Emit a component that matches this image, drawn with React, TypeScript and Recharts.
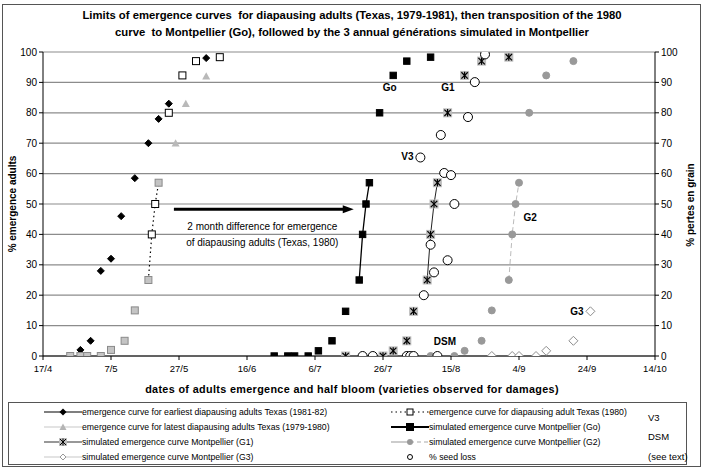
import React from 'react';
import { ComposedChart, Scatter, XAxis, YAxis, CartesianGrid, ReferenceLine, ReferenceDot } from 'recharts';

// x = days after 17 April
const dateLabels = ['17/4', '7/5', '27/5', '16/6', '6/7', '26/7', '15/8', '4/9', '24/9', '14/10'];
const xTicks = [0, 20, 40, 60, 80, 100, 120, 140, 160, 180];
const yTicks = [0, 10, 20, 30, 40, 50, 60, 70, 80, 90, 100];

const earliestX = [11, 14, 17, 20, 23, 27, 31, 34, 37, 48];
const earliestY = [2, 5, 28, 32, 46, 58.5, 70, 78, 83, 98];

const latestX = [39, 42, 48];
const latestY = [70, 83, 92];

const texasShadedX = [8, 11, 13, 17, 20, 24, 27, 31, 34];
const texasShadedY = [0, 0, 0, 0, 2, 5, 15, 25, 57];
const texasOpenX = [32, 33, 37, 41, 45, 52];
const texasOpenY = [40, 50, 80, 92.3, 97, 98.3];
const texasMidX = [31, 32, 33, 34];
const texasMidY = [25, 40, 50, 57];

const goX = [68, 72, 74, 78, 81, 85, 89, 93, 94, 95, 96, 99, 103, 107, 114];
const goY = [0, 0, 0, 0, 1.7, 5, 14.7, 25, 40, 50, 57, 80, 92.3, 97, 98.3];
const goMidX = [93, 94, 95, 96];
const goMidY = [25, 40, 50, 57];

const g1X = [89, 100, 103, 107, 109, 113, 114, 115, 116, 119, 124, 129, 137];
const g1Y = [0, 0, 1.7, 5, 14.7, 25, 40, 50, 57, 80, 92.3, 97, 98.3];
const g1MidX = [113, 114, 115, 116];
const g1MidY = [25, 40, 50, 57];

const g2X = [114, 121, 124, 129, 132, 137, 138, 139, 140, 143, 148, 156];
const g2Y = [0, 0, 1.7, 5, 15, 25, 40, 50, 57, 80, 92.3, 97];
const g2MidX = [137, 138, 139, 140];
const g2MidY = [25, 40, 50, 57];

const g3X = [132, 138, 140, 145, 148, 156, 161];
const g3Y = [0, 0, 0, 0, 1.7, 5, 14.7];

const seedX = [94, 97, 107, 108, 109, 116, 112, 114, 115, 119, 121, 118, 120, 111, 117, 125, 127, 130];
const seedY = [0, 0, 0, 0, 0, 0, 20, 36.6, 27.5, 31.5, 50, 60.2, 59.5, 65.3, 72.7, 78.6, 90.1, 99.2];

const pts = (xs: number[], ys: number[]) => xs.map((x, i) => ({ x, y: ys[i] }));

const FONT = 'Arial, "Liberation Sans", sans-serif';

const ok = (p: any) => p && p.cx != null && p.cy != null && !isNaN(p.cx) && !isNaN(p.cy);

const diamondShape = (s: number, fill: string, stroke: string) => (p: any) =>
  ok(p) ? (
    <polygon points={`${p.cx},${p.cy - s} ${p.cx + s},${p.cy} ${p.cx},${p.cy + s} ${p.cx - s},${p.cy}`} fill={fill} stroke={stroke} strokeWidth={1} />
  ) : <g />;

const squareShape = (s: number, fill: string, stroke: string, sw = 1) => (p: any) =>
  ok(p) ? <rect x={p.cx - s} y={p.cy - s} width={2 * s} height={2 * s} fill={fill} stroke={stroke} strokeWidth={sw} /> : <g />;

const triShape = (s: number, fill: string) => (p: any) =>
  ok(p) ? <polygon points={`${p.cx},${p.cy - s} ${p.cx + s},${p.cy + s * 0.8} ${p.cx - s},${p.cy + s * 0.8}`} fill={fill} /> : <g />;

const circleShape = (r: number, fill: string, stroke: string, sw = 1) => (p: any) =>
  ok(p) ? <circle cx={p.cx} cy={p.cy} r={r} fill={fill} stroke={stroke} strokeWidth={sw} /> : <g />;

const starSquare = (p: any) => {
  if (!ok(p)) return <g />;
  const { cx, cy } = p;
  const s = 4.5;
  const a = 3.2;
  return (
    <g>
      <rect x={cx - s} y={cy - s} width={2 * s} height={2 * s} fill="#bdbdbd" />
      <line x1={cx - a} y1={cy - a} x2={cx + a} y2={cy + a} stroke="#000" strokeWidth={1.2} />
      <line x1={cx - a} y1={cy + a} x2={cx + a} y2={cy - a} stroke="#000" strokeWidth={1.2} />
      <line x1={cx} y1={cy - a - 0.5} x2={cx} y2={cy + a + 0.5} stroke="#000" strokeWidth={1.2} />
    </g>
  );
};

const none = () => <g />;

const textShape = (t: string, size = 10, anchor: 'start' | 'middle' | 'end' = 'middle', weight: any = 'bold') => (p: any) =>
  ok(p) ? (
    <text x={p.cx} y={p.cy} dy="0.35em" textAnchor={anchor} fontSize={size} fontWeight={weight} fontFamily={FONT} fill="#000">
      {t}
    </text>
  ) : <g />;

const arrowHead = (p: any) =>
  ok(p) ? <polygon points={`${p.cx + 2},${p.cy} ${p.cx - 9},${p.cy - 4} ${p.cx - 9},${p.cy + 4}`} fill="#000" /> : <g />;

const LegendSym = ({ kind }: { kind: string }) => {
  const w = 38;
  const c = 19;
  const y = 5;
  let line: any = null;
  let mark: any = null;
  switch (kind) {
    case 'earliest':
      line = <line x1={0} y1={y} x2={w} y2={y} stroke="#000" strokeWidth={1.2} />;
      mark = <polygon points={`${c},${y - 3.5} ${c + 3.5},${y} ${c},${y + 3.5} ${c - 3.5},${y}`} fill="#000" />;
      break;
    case 'latest':
      line = <line x1={0} y1={y} x2={w} y2={y} stroke="#c8c8c8" strokeWidth={1.2} />;
      mark = <polygon points={`${c},${y - 3.5} ${c + 3.5},${y + 3} ${c - 3.5},${y + 3}`} fill="#b4b4b4" />;
      break;
    case 'g1':
      line = <line x1={0} y1={y} x2={w} y2={y} stroke="#333" strokeWidth={1.2} />;
      mark = (
        <g>
          <rect x={c - 4} y={y - 4} width={8} height={8} fill="#bdbdbd" />
          <line x1={c - 3} y1={y - 3} x2={c + 3} y2={y + 3} stroke="#000" />
          <line x1={c - 3} y1={y + 3} x2={c + 3} y2={y - 3} stroke="#000" />
          <line x1={c} y1={y - 3.5} x2={c} y2={y + 3.5} stroke="#000" />
        </g>
      );
      break;
    case 'g3':
      line = <line x1={0} y1={y} x2={w} y2={y} stroke="#c8c8c8" strokeWidth={1.2} />;
      mark = <polygon points={`${c},${y - 3} ${c + 3},${y} ${c},${y + 3} ${c - 3},${y}`} fill="#fff" stroke="#999" />;
      break;
    case 'texas80':
      line = <line x1={0} y1={y} x2={w} y2={y} stroke="#000" strokeWidth={1.2} strokeDasharray="1.5 3" />;
      mark = <rect x={c - 3} y={y - 3} width={6} height={6} fill="#fff" stroke="#000" />;
      break;
    case 'go':
      line = <line x1={0} y1={y} x2={w} y2={y} stroke="#000" strokeWidth={2} />;
      mark = <rect x={c - 4} y={y - 4} width={8} height={8} fill="#000" />;
      break;
    case 'g2':
      line = (
        <g>
          <line x1={0} y1={y} x2={c} y2={y} stroke="#aaa" strokeWidth={1.2} />
          <line x1={c} y1={y} x2={w} y2={y} stroke="#aaa" strokeWidth={1.2} strokeDasharray="4 3" />
        </g>
      );
      mark = <circle cx={c} cy={y} r={3} fill="#999" />;
      break;
    case 'seed':
      mark = <circle cx={c} cy={y} r={2.5} fill="#fff" stroke="#000" />;
      break;
  }
  return (
    <svg width={w} height={10} style={{ display: 'block' }}>
      {line}
      {mark}
    </svg>
  );
};

const legendRows1 = [
  ['earliest', 'emergence curve for earliest diapausing adults Texas (1981-82)'],
  ['latest', 'emergence curve for latest diapausing adults Texas (1979-1980)'],
  ['g1', 'simulated emergence curve Montpellier (G1)'],
  ['g3', 'simulated emergence curve Montpellier (G3)'],
];
const legendRows2 = [
  ['texas80', 'emergence curve for diapausing adult Texas (1980)'],
  ['go', 'simulated emergence curve Montpellier (Go)'],
  ['g2', 'simulated emergence curve Montpellier (G2)'],
  ['seed', '% seed loss'],
];

export default function App() {
  const legendItem = (k: string, t: string, x: number, y: number, textX: number) => (
    <div key={k} style={{ position: 'absolute', left: x, top: y, height: 10 }}>
      <div style={{ position: 'absolute', left: 0, top: 0 }}>
        <LegendSym kind={k} />
      </div>
      <div style={{ position: 'absolute', left: textX, top: -1, fontSize: 8.7, whiteSpace: 'nowrap', lineHeight: '12px' }}>{t}</div>
    </div>
  );
  return (
    <div style={{ position: 'absolute', left: 0, top: 0, width: 704, height: 469, background: '#fff', fontFamily: FONT, color: '#000' }}>
      <div style={{ position: 'absolute', left: 2, top: 4, width: 697, height: 461, border: '1px solid #555' }} />
      <div style={{ position: 'absolute', left: 0, top: 7, width: 704, textAlign: 'center', fontSize: 11.3, fontWeight: 'bold', lineHeight: '17px' }}>
        Limits of emergence curves&nbsp; for diapausing adults (Texas, 1979-1981), then transposition of the 1980
        <br />
        curve&nbsp; to Montpellier (Go), followed by the 3 annual générations simulated in Montpellier
      </div>
      <div style={{ position: 'absolute', left: 0, top: 0 }}>
        <ComposedChart width={704} height={400} margin={{ top: 52, right: 9, bottom: 14, left: 8 }}>
          <CartesianGrid vertical={false} horizontal={true} stroke="#8c8c8c" strokeWidth={1.2} yAxisId="l" />
          <XAxis
            dataKey="x"
            type="number"
            domain={[0, 180]}
            ticks={xTicks}
            tickFormatter={(v: number) => dateLabels[Math.round(v / 20)]}
            height={30}
            tickSize={4}
            tickMargin={5}
            stroke="#000"
            tick={{ fill: '#000', fontSize: 9.5, fontFamily: FONT }}
            allowDataOverflow
          />
          <YAxis
            yAxisId="l"
            dataKey="y"
            type="number"
            domain={[0, 100]}
            ticks={yTicks}
            width={35}
            tickSize={4}
            tickMargin={2}
            stroke="#000"
            tick={{ fill: '#000', fontSize: 10, fontFamily: FONT }}
            allowDataOverflow
          />
          <YAxis
            yAxisId="r"
            orientation="right"
            type="number"
            domain={[0, 100]}
            ticks={yTicks}
            width={40}
            tickSize={4}
            tickMargin={2}
            stroke="#000"
            tick={{ fill: '#000', fontSize: 10, fontFamily: FONT }}
            allowDataOverflow
          />
          <Scatter yAxisId="r" dataKey="y" data={[{ x: 0, y: 0 }, { x: 180, y: 100 }]} shape={none} isAnimationActive={false} />

          <Scatter yAxisId="l" dataKey="y" data={pts(texasMidX, texasMidY)} line={{ stroke: '#000', strokeWidth: 1.2, strokeDasharray: '1.5 3' }} shape={none} isAnimationActive={false} />
          <Scatter yAxisId="l" dataKey="y" data={pts(goMidX, goMidY)} line={{ stroke: '#000', strokeWidth: 1.3 }} shape={none} isAnimationActive={false} />
          <Scatter yAxisId="l" dataKey="y" data={pts(g1MidX, g1MidY)} line={{ stroke: '#222', strokeWidth: 1 }} shape={none} isAnimationActive={false} />
          <Scatter yAxisId="l" dataKey="y" data={pts(g2MidX, g2MidY)} line={{ stroke: '#bbb', strokeWidth: 1, strokeDasharray: '5 3' }} shape={none} isAnimationActive={false} />

          <ReferenceLine yAxisId="l" segment={[{ x: 38.5, y: 48.3 }, { x: 88.5, y: 48.3 }]} stroke="#000" strokeWidth={3} />
          <ReferenceDot yAxisId="l" x={90.8} y={48.3} r={0} shape={arrowHead} />
          <ReferenceDot yAxisId="l" x={64.5} y={42.6} r={0} shape={textShape('2 month difference for emergence', 10, 'middle', 'normal')} />
          <ReferenceDot yAxisId="l" x={64.5} y={37.4} r={0} shape={textShape('of diapausing adults (Texas, 1980)', 10, 'middle', 'normal')} />

          <Scatter yAxisId="l" dataKey="y" data={pts(earliestX, earliestY)} shape={diamondShape(3.5, '#000', '#000')} isAnimationActive={false} />
          <Scatter yAxisId="l" dataKey="y" data={pts(latestX, latestY)} shape={triShape(4, '#b9b9b9')} isAnimationActive={false} />
          <Scatter yAxisId="l" dataKey="y" data={pts(texasShadedX, texasShadedY)} shape={squareShape(3.5, '#c4c4c4', '#8a8a8a')} isAnimationActive={false} />
          <Scatter yAxisId="l" dataKey="y" data={pts(texasOpenX, texasOpenY)} shape={squareShape(3.5, '#fff', '#000')} isAnimationActive={false} />
          <Scatter yAxisId="l" dataKey="y" data={pts(goX, goY)} shape={squareShape(3.2, '#000', '#000')} isAnimationActive={false} />
          <Scatter yAxisId="l" dataKey="y" data={pts(g1X, g1Y)} shape={starSquare} isAnimationActive={false} />
          <Scatter yAxisId="l" dataKey="y" data={pts(g2X, g2Y)} shape={circleShape(3.5, '#999', '#999')} isAnimationActive={false} />
          <Scatter yAxisId="l" dataKey="y" data={pts(g3X, g3Y)} shape={diamondShape(4.5, '#fff', '#8c8c8c')} isAnimationActive={false} />
          <Scatter yAxisId="l" dataKey="y" data={pts(seedX, seedY)} shape={circleShape(4.5, '#fff', '#000', 1)} isAnimationActive={false} />

          <ReferenceDot yAxisId="l" x={102} y={88.2} r={0} shape={textShape('Go')} />
          <ReferenceDot yAxisId="l" x={119.1} y={88.2} r={0} shape={textShape('G1')} />
          <ReferenceDot yAxisId="l" x={107.2} y={65.5} r={0} shape={textShape('V3')} />
          <ReferenceDot yAxisId="l" x={118.2} y={4.8} r={0} shape={textShape('DSM')} />
          <ReferenceDot yAxisId="l" x={143.3} y={45.7} r={0} shape={textShape('G2')} />
          <ReferenceDot yAxisId="l" x={157} y={14.8} r={0} shape={textShape('G3')} />
        </ComposedChart>
      </div>
      <div style={{ position: 'absolute', left: 12, top: 204, width: 0, height: 0 }}>
        <div style={{ position: 'absolute', transform: 'translate(-50%,-50%) rotate(-90deg)', whiteSpace: 'nowrap', fontSize: 10, fontWeight: 'bold' }}>% emergence adults</div>
      </div>
      <div style={{ position: 'absolute', left: 690, top: 205, width: 0, height: 0 }}>
        <div style={{ position: 'absolute', transform: 'translate(-50%,-50%) rotate(-90deg)', whiteSpace: 'nowrap', fontSize: 10, fontWeight: 'bold' }}>% pertes en grain</div>
      </div>
      <div style={{ position: 'absolute', left: 0, top: 383, width: 704, textAlign: 'center', fontSize: 10.8, fontWeight: 'bold', letterSpacing: 0.35 }}>
        dates of adults emergence and half bloom (varieties observed for damages)
      </div>
      <div style={{ position: 'absolute', left: 8, top: 402, width: 677, height: 61, border: '1px solid #555' }} />
      {legendRows1.map(([k, t], i) => legendItem(k, t, 44, 407 + i * 15, 38))}
      {legendRows2.map(([k, t], i) => legendItem(k, t, 391, 407 + i * 15, 38))}
      <div style={{ position: 'absolute', left: 648, top: 412, fontSize: 9.5, lineHeight: '12px' }}>V3</div>
      <div style={{ position: 'absolute', left: 648, top: 431, fontSize: 9.5, lineHeight: '12px' }}>DSM</div>
      <div style={{ position: 'absolute', left: 648, top: 451, fontSize: 9.5, lineHeight: '12px' }}>(see text)</div>
    </div>
  );
}
